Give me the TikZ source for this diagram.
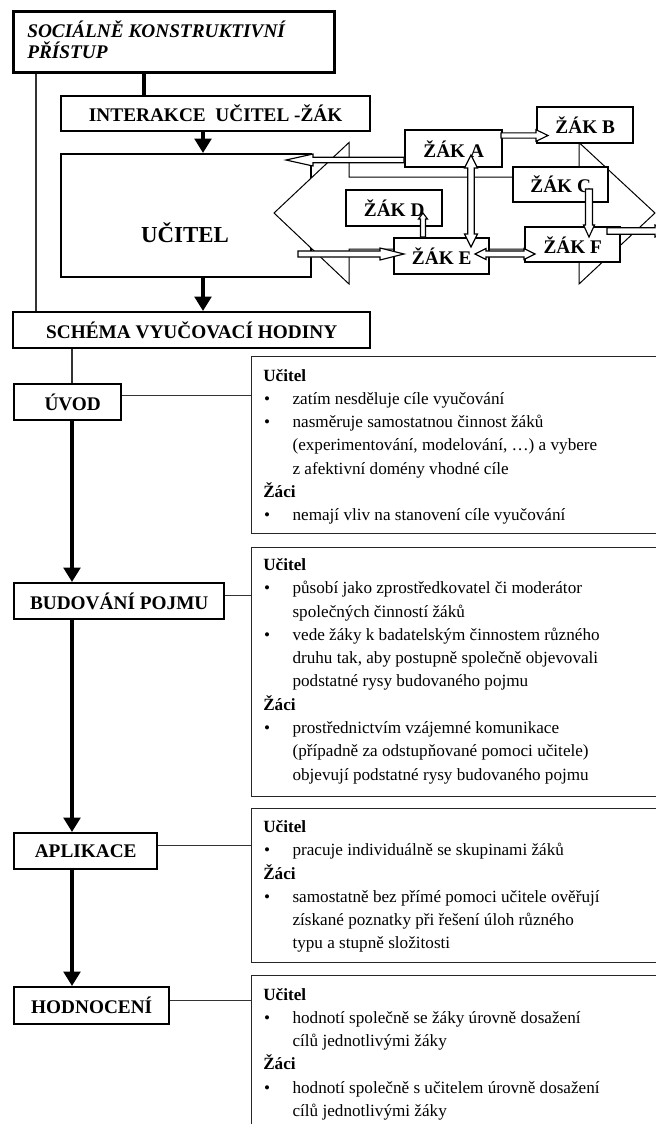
\documentclass[tikz,border=0pt]{standalone}
\usepackage{fontspec}
\setmainfont{Liberation Serif}
\usetikzlibrary{arrows.meta}
\newcommand{\bitem}{\makebox[20.5pt][l]{\hspace{0.6pt}\textbullet}}
\newcommand{\contl}{\hspace*{20.5pt}}
% single block arrow: #1 x, #2 y (tail), #3 length, #4 angle, #5 shaft half width, #6 head half width, #7 head length
\newcommand{\blockarr}[7]{\draw[blk, shift={(#1,#2)}, rotate=#4] (0,-#5) -- ({#3-#7},-#5) -- ({#3-#7},-#6) -- (#3,0) -- ({#3-#7},#6) -- ({#3-#7},#5) -- (0,#5) -- cycle;}
% double block arrow
\newcommand{\dblockarr}[7]{\draw[blk, shift={(#1,#2)}, rotate=#4] (0,0) -- (#7,-#6) -- (#7,-#5) -- ({#3-#7},-#5) -- ({#3-#7},-#6) -- (#3,0) -- ({#3-#7},#6) -- ({#3-#7},#5) -- (#7,#5) -- (#7,#6) -- cycle;}
\tikzset{
  boxT/.style={draw, line width=2.3pt, fill=white, inner sep=0, anchor=north west},
  boxM/.style={draw, line width=1.7pt, fill=white, inner sep=0, anchor=north west, font=\fontsize{13.5}{16}\selectfont\bfseries},
  tbox/.style={draw=black!85, line width=0.9pt, inner sep=0, anchor=north west},
  txt/.style={anchor=base west, inner sep=0, font=\fontsize{12}{16.3}\selectfont},
  thinl/.style={draw=black!80, line width=0.9pt},
  midl/.style={line width=2.3pt},
  arr/.style={line width=2.5pt, -{Triangle[length=10pt,width=11.5pt]}},
  blk/.style={draw, line width=0.8pt, fill=white, line join=miter},
  bigarr/.style={draw, line width=0.7pt, fill=white, line join=miter},
}
\begin{document}
\begin{tikzpicture}[x=0.7pt,y=-0.7pt]
\useasboundingbox (0,0) rectangle (656,1124);
\clip (0,0) rectangle (656,1124);

% ---- top part ----
\node[boxT, minimum width=224.7pt, minimum height=42.7pt] (soc) at (12,10) {};
\node[anchor=base west, inner sep=0, font=\fontsize{13.5}{15}\selectfont\bfseries\itshape] (soctext) at (27,37.5)
  {\begin{minipage}[t]{300pt}SOCIÁLNĚ KONSTRUKTIVNÍ\\PŘÍSTUP\end{minipage}};
\node[boxM, minimum width=216.3pt, minimum height=24.5pt] (inter) at (60,95) {INTERAKCE\ \ UČITEL -ŽÁK};
\node[boxM, minimum width=175pt, minimum height=86.1pt] (ucitel) at (60,153) {};
\node[anchor=base, inner sep=0, font=\fontsize{16}{19}\selectfont\bfseries] (uciteltext) at (185,242) {UČITEL};
\node[boxM, minimum width=249.9pt, minimum height=25.2pt] (schema) at (12,311) {SCHÉMA VYUČOVACÍ HODINY};

\draw[thinl] ([xshift=16.8pt]soc.south west) -- ([xshift=16.8pt]soc.south west |- schema.north);
\draw[midl] ([xshift=92.4pt]soc.south west) -- ([xshift=92.4pt]soc.south west |- inter.north);
\draw[arr] ([xshift=100.1pt]inter.south west) -- ([xshift=100.1pt]inter.south west |- ucitel.north);
\draw[arr] ([xshift=100.1pt]ucitel.south west) -- ([xshift=100.1pt]ucitel.south west |- schema.north);

% big double arrow behind the pupils
\draw[bigarr] (274,213) -- (349,142.5) -- (349,177) -- (579,177) -- (579,142.5) -- (655,213)
  -- (579,284) -- (579,249) -- (349,249) -- (349,284) -- cycle;

% pupils
\node[boxM, minimum width=67.9pt, minimum height=25.9pt] (zA) at (404,129) {ŽÁK A};
\node[boxM, minimum width=67.2pt, minimum height=25.2pt] (zB) at (536,106) {ŽÁK B};
\node[boxM, minimum width=66.5pt, minimum height=24.5pt] (zC) at (512,166) {ŽÁK C};
\node[boxM, minimum width=67.2pt, minimum height=25.2pt] (zD) at (345,189) {ŽÁK D};
\node[boxM, minimum width=66.5pt, minimum height=25.2pt] (zE) at (393,237) {ŽÁK E};
\node[boxM, minimum width=66.5pt, minimum height=24.5pt] (zF) at (524,226) {ŽÁK F};

% block arrows
\blockarr{404}{160}{118}{180}{2.8}{6}{27}
\blockarr{501}{135.5}{47}{0}{2.6}{5.8}{12}
\dblockarr{471}{247}{92}{90}{3.3}{6.5}{13}
\blockarr{423}{237}{24}{90}{2.5}{4.5}{6}
\blockarr{589}{189}{48}{-90}{3.5}{5.5}{12}
\dblockarr{475}{254}{60}{0}{3}{5.5}{11}
\blockarr{607}{231}{60}{0}{3.2}{6}{12}
\blockarr{298}{254}{106}{0}{3}{6}{24}

% ---- lesson scheme ----
\node[boxM, minimum width=74.9pt, minimum height=25.2pt] (uvod) at (13,383) {\hspace{7pt}ÚVOD};
\node[boxM, minimum width=147pt, minimum height=25.2pt] (bud) at (13,582) {BUDOVÁNÍ POJMU};
\node[boxM, minimum width=100.1pt, minimum height=25.2pt] (apl) at (13,832) {APLIKACE};
\node[boxM, minimum width=108.5pt, minimum height=25.9pt] (hod) at (13,986) {HODNOCENÍ};

\draw[thinl] ([xshift=42pt]schema.south west) -- ([xshift=42pt]schema.south west |- uvod.north);
\draw[arr] ([xshift=41.3pt]uvod.south west) -- ([xshift=41.3pt]uvod.south west |- bud.north);
\draw[arr] ([xshift=41.3pt]bud.south west) -- ([xshift=41.3pt]bud.south west |- apl.north);
\draw[arr] ([xshift=41.3pt]apl.south west) -- ([xshift=41.3pt]apl.south west |- hod.north);

\node[tbox, minimum width=314.3pt, minimum height=123.9pt] (t1) at (251,356) {};
\node[tbox, minimum width=314.3pt, minimum height=174.3pt] (t2) at (251,547) {};
\node[tbox, minimum width=314.3pt, minimum height=107.8pt] (t3) at (251,808) {};
\node[tbox, minimum width=314.3pt, minimum height=140pt] (t4) at (251,975) {};

\draw[thinl] ([yshift=4.9pt]uvod.east) -- ([yshift=4.9pt]uvod.east -| t1.west);
\draw[thinl] ([yshift=4.2pt]bud.east) -- ([yshift=4.2pt]bud.east -| t2.west);
\draw[thinl] ([yshift=4.2pt]apl.east) -- ([yshift=4.2pt]apl.east -| t3.west);
\draw[thinl] ([yshift=3.8pt]hod.east) -- ([yshift=3.8pt]hod.east -| t4.west);

\node[txt] (t1text) at (263,381) {\begin{minipage}[t]{330pt}
\textbf{Učitel}\\
\bitem zatím nesděluje cíle vyučování\\
\bitem nasměruje samostatnou činnost žáků\\
\contl (experimentování, modelování, …) a vybere\\
\contl z afektivní domény vhodné cíle\\
\textbf{Žáci}\\
\bitem nemají vliv na stanovení cíle vyučování
\end{minipage}};

\node[txt] (t2text) at (263,570.5) {\begin{minipage}[t]{330pt}
\textbf{Učitel}\\
\bitem působí jako zprostředkovatel či moderátor\\
\contl společných činností žáků\\
\bitem vede žáky k badatelským činnostem různého\\
\contl druhu tak, aby postupně společně objevovali\\
\contl podstatné rysy budovaného pojmu\\
\textbf{Žáci}\\
\bitem prostřednictvím vzájemné komunikace\\
\contl (případně za odstupňované pomoci učitele)\\
\contl objevují podstatné rysy budovaného pojmu
\end{minipage}};

\node[txt] (t3text) at (263,832.5) {\begin{minipage}[t]{330pt}
\textbf{Učitel}\\
\bitem pracuje individuálně se skupinami žáků\\
\textbf{Žáci}\\
\bitem samostatně bez přímé pomoci učitele ověřují\\
\contl získané poznatky při řešení úloh různého\\
\contl typu a stupně složitosti
\end{minipage}};

\node[txt] (t4text) at (263,1000) {\begin{minipage}[t]{330pt}
\textbf{Učitel}\\
\bitem hodnotí společně se žáky úrovně dosažení\\
\contl cílů jednotlivými žáky\\
\textbf{Žáci}\\
\bitem hodnotí společně s učitelem úrovně dosažení\\
\contl cílů jednotlivými žáky
\end{minipage}};
\end{tikzpicture}
\end{document}
